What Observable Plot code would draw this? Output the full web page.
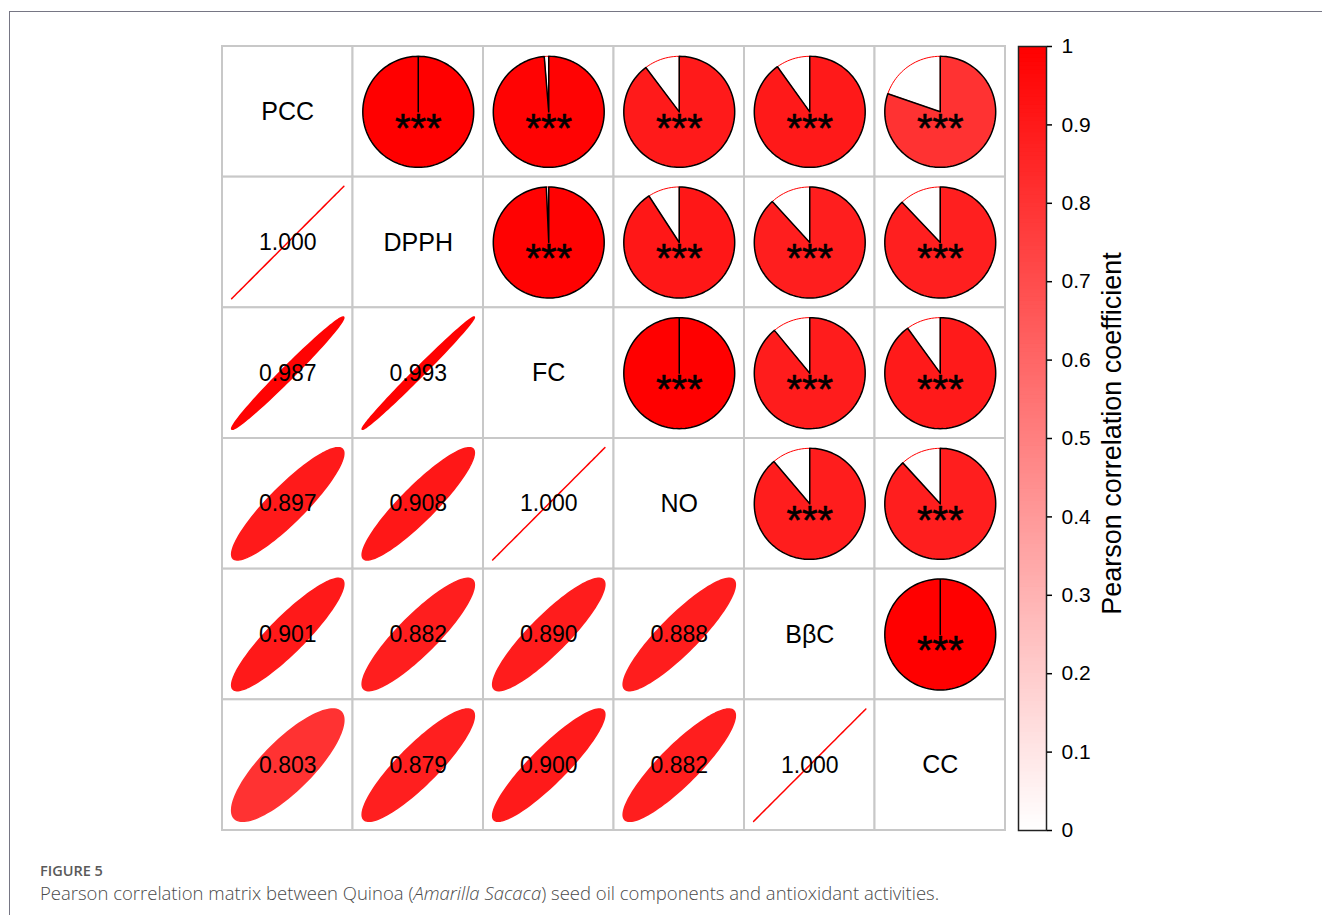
<!DOCTYPE html>
<html><head><meta charset="utf-8">
<script src="https://cdn.jsdelivr.net/npm/d3@7"></script>
<script src="https://cdn.jsdelivr.net/npm/@observablehq/plot@0.6"></script>
<style>
body{margin:0;background:#fff;}
#wrap{position:relative;width:1322px;height:915px;overflow:hidden;background:#fff;}
#frame{position:absolute;left:9px;top:11px;width:1400px;height:1000px;border-left:1.5px solid #767684;border-top:1.5px solid #767684;}
#main{position:absolute;left:0;top:0;}
#bar{position:absolute;left:1000px;top:0;}
#fig{position:absolute;left:40px;top:861px;font-family:"Open Sans",Lato,sans-serif;font-weight:600;font-size:14.5px;color:#5a5a5a;}
#cap{position:absolute;left:40px;top:880px;font-family:"Open Sans",Lato,sans-serif;font-weight:300;font-size:18.5px;color:#4a4a4a;white-space:nowrap;}
</style>
</head>
<body>
<div id="wrap">
  <div id="frame"></div>
  <div id="main"></div>
  <div id="bar"></div>
  <div id="fig">FIGURE 5</div>
  <div id="cap">Pearson correlation matrix between Quinoa (<i>Amarilla Sacaca</i>) seed oil components and antioxidant activities.</div>
</div>
<script>
// ---- data ----
const variables = ["PCC", "DPPH", "FC", "NO", "BβC", "CC"];
const corrDPPH = [1.000];
const corrFC = [0.987, 0.993];
const corrNO = [0.897, 0.908, 1.000];
const corrBBC = [0.901, 0.882, 0.890, 0.888];
const corrCC = [0.803, 0.879, 0.900, 0.882, 1.000];
const significance = "***";
const colorbarTicks = [0, 0.1, 0.2, 0.3, 0.4, 0.5, 0.6, 0.7, 0.8, 0.9, 1];
const colorbarTitle = "Pearson correlation coefficient";

// ---- derived tables ----
const lowerRows = [[], corrDPPH, corrFC, corrNO, corrBBC, corrCC];
const pairs = [];
lowerRows.forEach((vals, i) => vals.forEach((r, j) => pairs.push({i, j, r, id: i + "-" + j})));

const cells = [];
variables.forEach((_, i) => variables.forEach((_, j) => cells.push({row: i, col: j})));

const ELL = 0.43, PIE = 0.425, N = 120;
const ellipsePts = [];
pairs.forEach(p => {
  const d = Math.acos(Math.min(1, p.r));
  for (let k = 0; k <= N; k++) {
    const t = 2 * Math.PI * k / N;
    ellipsePts.push({id: p.id, r: p.r,
      x: p.j + 0.5 + ELL * Math.cos(t + d / 2),
      y: p.i + 0.5 - ELL * Math.cos(t - d / 2)});
  }
});
const wedgePts = [], restPts = [];
pairs.forEach(p => {
  const cx = p.i + 0.5, cy = p.j + 0.5, a = 2 * Math.PI * p.r;
  const push = (arr, a0, a1) => {
    arr.push({id: p.id, r: p.r, x: cx, y: cy});
    const n = Math.max(2, Math.ceil(N * (a1 - a0) / (2 * Math.PI)));
    for (let k = 0; k <= n; k++) {
      const th = a0 + (a1 - a0) * k / n;
      arr.push({id: p.id, r: p.r, x: cx + PIE * Math.sin(th), y: cy - PIE * Math.cos(th)});
    }
    arr.push({id: p.id, r: p.r, x: cx, y: cy});
  };
  if (p.r < 1) push(restPts, a, 2 * Math.PI);
  push(wedgePts, 0, a);
});

const colorScale = {type: "linear", domain: [0, 1], range: ["white", "red"], interpolate: "rgb"};
const font = "'Liberation Sans', Arial, sans-serif";

const main = Plot.plot({
  width: 1010, height: 850,
  marginLeft: 222, marginRight: 5, marginTop: 46, marginBottom: 20,
  style: {fontFamily: font, background: "transparent", color: "black"},
  x: {domain: [0, 6], axis: null},
  y: {domain: [0, 6], reverse: true, axis: null},
  color: colorScale,
  marks: [
    Plot.rect(cells, {x1: "col", x2: d => d.col + 1, y1: "row", y2: d => d.row + 1,
      fill: "white", stroke: "#c8c8c8", strokeWidth: 2, inset: 0}),
    Plot.line(ellipsePts, {x: "x", y: "y", z: "id", fill: "r", stroke: "r", strokeWidth: 1.5}),
    Plot.line(restPts, {x: "x", y: "y", z: "id", fill: "white", stroke: "red", strokeWidth: 1}),
    Plot.line(wedgePts, {x: "x", y: "y", z: "id", fill: "r", stroke: "black", strokeWidth: 1.5}),
    Plot.text(variables, {x: (d, k) => k + 0.5, y: (d, k) => k + 0.5, text: d => d, fontSize: 25, fill: "black"}),
    Plot.text(pairs, {x: d => d.j + 0.5, y: d => d.i + 0.5, text: d => d.r.toFixed(3), fontSize: 23, fill: "black"}),
    Plot.text(pairs, {x: d => d.i + 0.5, y: d => d.j + 0.5, text: () => significance, fontSize: 40, dy: 17, fill: "black",
      stroke: "black", strokeWidth: 0.6})
  ]
});
document.getElementById("main").appendChild(main);

const steps = d3.range(0, 1, 0.005);
const bar = Plot.plot({
  width: 160, height: 850,
  marginLeft: 18, marginRight: 114, marginTop: 46, marginBottom: 20,
  style: {fontFamily: font, background: "transparent", color: "black"},
  x: {domain: [0, 1], axis: null},
  y: {domain: [0, 1], axis: null},
  color: colorScale,
  marks: [
    Plot.rect(steps, {x1: 0, x2: 1, y1: d => d, y2: d => Math.min(1, d + 0.0065), fill: d => d + 0.0025, inset: 0}),
    Plot.frame({stroke: "#222", strokeWidth: 1.5}),
    Plot.axisY(colorbarTicks, {anchor: "right", tickSize: 5, tickPadding: 10, fontSize: 21,
      tickFormat: d3.format("~g"), label: null, strokeWidth: 1.5}),
    Plot.text([colorbarTitle], {frameAnchor: "right", dx: 66, dy: -5, rotate: -90, textAnchor: "middle",
      fontSize: 27, text: d => d, fill: "black"})
  ]
});
document.getElementById("bar").appendChild(bar);
</script>
</body></html>
